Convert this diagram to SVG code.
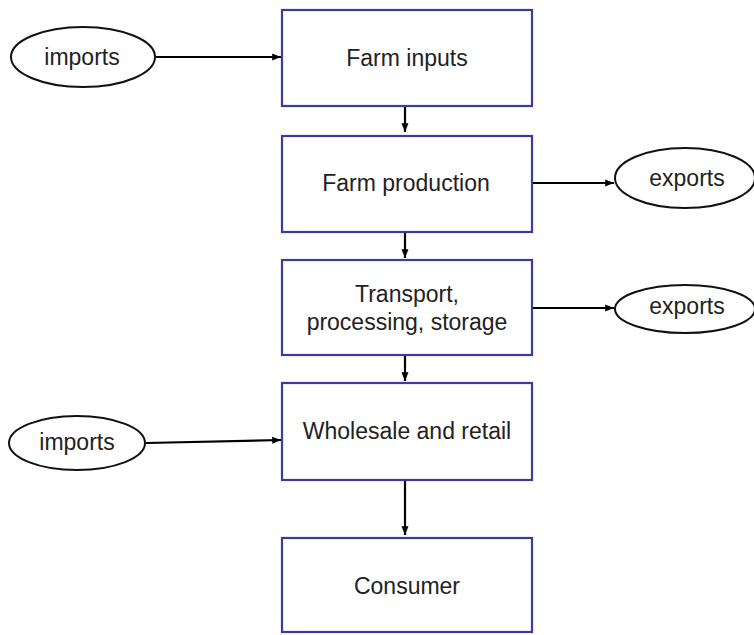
<svg xmlns="http://www.w3.org/2000/svg" width="754" height="635" viewBox="0 0 754 635">
<defs>
<marker id="ah" viewBox="0 0 10 10" refX="10" refY="5" markerWidth="4" markerHeight="4" markerUnits="strokeWidth" orient="auto">
<path d="M0,1 L10,5 L0,9 z" fill="#000"/>
</marker>
<style>
.box{fill:#fff;stroke:#3b3ba2;stroke-width:2.2}
.ell{fill:#fff;stroke:#111;stroke-width:2}
.lbl{font-family:"Liberation Sans",Arial,sans-serif;font-size:23px;fill:#222;text-anchor:middle}
.con{stroke:#000;stroke-width:2.2;fill:none;marker-end:url(#ah)}
</style>
</defs>
<rect width="754" height="635" fill="#fff"/>
<g id="connectors">
<line class="con" x1="156" y1="57" x2="281" y2="57"/>
<line class="con" x1="405" y1="106" x2="405" y2="132"/>
<line class="con" x1="405" y1="232" x2="405" y2="258"/>
<line class="con" x1="405" y1="355" x2="405" y2="381"/>
<line class="con" x1="405" y1="480" x2="405" y2="535"/>
<line class="con" x1="532" y1="183" x2="614" y2="183"/>
<line class="con" x1="532" y1="308" x2="614" y2="308"/>
<line class="con" x1="146" y1="443" x2="281" y2="440"/>
</g>
<g id="n-farm-inputs">
<rect class="box" x="282" y="10" width="250" height="96"/>
<text class="lbl" x="407" y="66">Farm inputs</text>
</g>
<g id="n-farm-production">
<rect class="box" x="282" y="136" width="250" height="96"/>
<text class="lbl" x="406" y="191">Farm production</text>
</g>
<g id="n-transport">
<rect class="box" x="282" y="260" width="250" height="95"/>
<text class="lbl" x="407" y="302">Transport,</text>
<text class="lbl" x="407" y="330">processing, storage</text>
</g>
<g id="n-wholesale">
<rect class="box" x="282" y="383" width="250" height="97"/>
<text class="lbl" x="407" y="439">Wholesale and retail</text>
</g>
<g id="n-consumer">
<rect class="box" x="282" y="538" width="250" height="94"/>
<text class="lbl" x="407" y="594">Consumer</text>
</g>
<g id="n-imports-1">
<ellipse class="ell" cx="83" cy="57" rx="72" ry="30"/>
<text class="lbl" x="82" y="65">imports</text>
</g>
<g id="n-exports-1">
<ellipse class="ell" cx="685" cy="178" rx="70" ry="30"/>
<text class="lbl" x="687" y="186">exports</text>
</g>
<g id="n-exports-2">
<ellipse class="ell" cx="685" cy="309" rx="70" ry="24"/>
<text class="lbl" x="687" y="314">exports</text>
</g>
<g id="n-imports-2">
<ellipse class="ell" cx="77" cy="443" rx="68" ry="27"/>
<text class="lbl" x="77" y="450">imports</text>
</g>
</svg>
